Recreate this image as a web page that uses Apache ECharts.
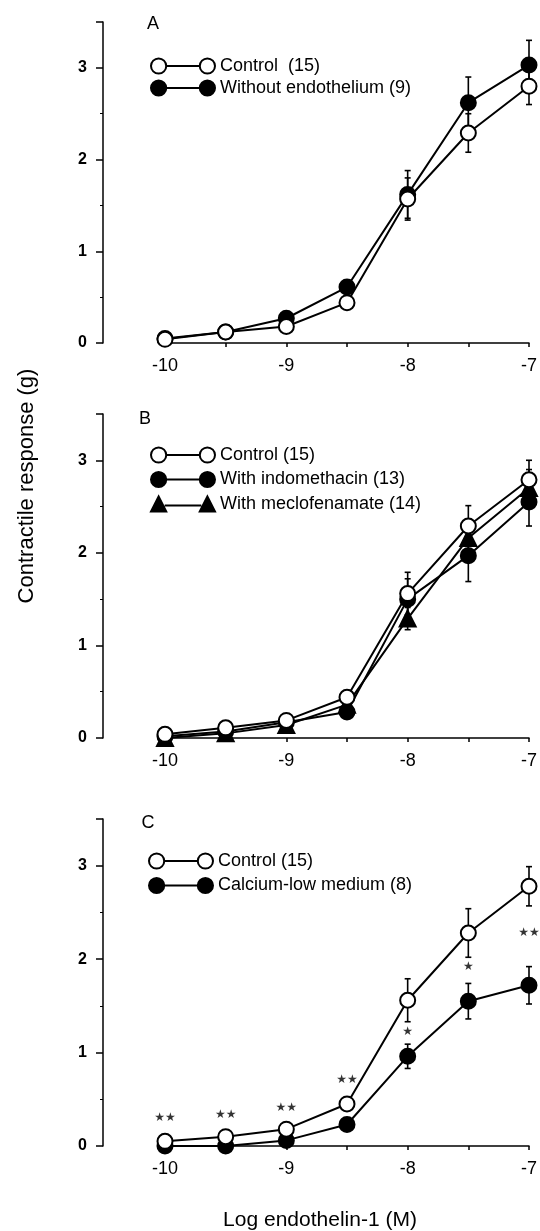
<!DOCTYPE html>
<html><head><meta charset="utf-8">
<script src="https://cdn.jsdelivr.net/npm/echarts@6/dist/echarts.min.js"></script>
<style>html,body{margin:0;padding:0;background:#fff}#c{width:540px;height:1231px}</style>
</head><body><div id="c"></div>
<script>
// ---- data ----
const xValues = [-10, -9.5, -9, -8.5, -8, -7.5, -7];
const xTickLabels = ['-10', '-9', '-8', '-7'];
const yTickLabels = ['0', '1', '2', '3'];

// Panel A
const aControl     = [0.04, 0.12, 0.18, 0.44, 1.57, 2.29, 2.80];
const aControlErr  = [0.02, 0.02, 0.03, 0.04, 0.23, 0.21, 0.20];
const aNoEndo      = [0.05, 0.12, 0.27, 0.61, 1.62, 2.62, 3.03];
const aNoEndoErr   = [0.02, 0.02, 0.03, 0.06, 0.26, 0.28, 0.27];

// Panel B
const bControl     = [0.04, 0.11, 0.19, 0.44, 1.56, 2.29, 2.79];
const bControlErr  = [0.02, 0.02, 0.03, 0.04, 0.23, 0.22, 0.21];
const bIndo        = [0.02, 0.07, 0.17, 0.28, 1.50, 1.97, 2.55];
const bIndoErr     = [0.01, 0.02, 0.03, 0.04, 0.22, 0.28, 0.26];
const bMeclo       = [0.00, 0.05, 0.14, 0.36, 1.29, 2.16, 2.70];
const bMecloErr    = [0.01, 0.02, 0.03, 0.04, 0.12, 0.20, 0.20];

// Panel C
const cControl     = [0.05, 0.10, 0.18, 0.45, 1.56, 2.28, 2.78];
const cControlErr  = [0.02, 0.02, 0.03, 0.05, 0.23, 0.26, 0.21];
const cCalcium     = [0.00, 0.00, 0.06, 0.23, 0.96, 1.55, 1.72];
const cCalciumErr  = [0.01, 0.01, 0.02, 0.03, 0.13, 0.19, 0.20];
const cStarY       = [0.30, 0.33, 0.41, 0.71, 1.22, 1.92, 2.28];
const cStarText    = ['**', '**', '**', '**', '*', '*', '**'];

const legendA = ['Control  (15)', 'Without endothelium (9)'];
const legendB = ['Control (15)', 'With indomethacin (13)', 'With meclofenamate (14)'];
const legendC = ['Control (15)', 'Calcium-low medium (8)'];
const panelLetters = ['A', 'B', 'C'];

// ---- build ----
const FONT = '"Liberation Sans", Arial, Helvetica, sans-serif';
const pts = v => xValues.map((x, i) => [x, v[i]]);
const errPts = (v, e) => xValues.map((x, i) => [x, v[i], e[i]]);

function errRender(params, api) {
  const x = api.value(0), m = api.value(1), e = api.value(2);
  const t = api.coord([x, m + e]);
  const b = api.coord([x, m - e]);
  const cw = 3;
  const st = { stroke: '#000', lineWidth: 1.6 };
  return { type: 'group', children: [
    { type: 'line', shape: { x1: t[0], y1: t[1], x2: b[0], y2: b[1] }, style: st },
    { type: 'line', shape: { x1: t[0] - cw, y1: t[1], x2: t[0] + cw, y2: t[1] }, style: st },
    { type: 'line', shape: { x1: b[0] - cw, y1: b[1], x2: b[0] + cw, y2: b[1] }, style: st }
  ]};
}

const series = [];
function addGroup(gi, name, vals, errs, symbol, filled, order) {
  series.push({ type: 'line', name, xAxisIndex: gi, yAxisIndex: gi, data: pts(vals),
    symbol: 'none', showSymbol: false, lineStyle: { color: '#000', width: 2 }, z: 2, clip: false, silent: true, animation: false });
  series.push({ type: 'custom', name, xAxisIndex: gi, yAxisIndex: gi, data: errPts(vals, errs),
    renderItem: errRender, z: 3, silent: true, animation: false });
  series.push({ type: 'scatter', name, xAxisIndex: gi, yAxisIndex: gi, data: pts(vals),
    symbol, symbolSize: symbol === 'triangle' ? 16 : 15,
    itemStyle: { color: filled ? '#000' : '#fff', borderColor: '#000', borderWidth: 2, opacity: 1 },
    z: 4 + order, clip: false, silent: true, animation: false });
}

addGroup(0, legendA[1], aNoEndo, aNoEndoErr, 'circle', true, 0);
addGroup(0, legendA[0], aControl, aControlErr, 'circle', false, 1);

addGroup(1, legendB[2], bMeclo, bMecloErr, 'triangle', true, 0);
addGroup(1, legendB[1], bIndo, bIndoErr, 'circle', true, 1);
addGroup(1, legendB[0], bControl, bControlErr, 'circle', false, 2);

addGroup(2, legendC[1], cCalcium, cCalciumErr, 'circle', true, 0);
addGroup(2, legendC[0], cControl, cControlErr, 'circle', false, 1);

series.push({ type: 'scatter', xAxisIndex: 2, yAxisIndex: 2, data: pts(cStarY),
  symbol: 'circle', symbolSize: 1, itemStyle: { color: 'transparent' }, silent: true, z: 8, animation: false,
  label: { show: true, position: 'inside', fontSize: 12, fontFamily: '"DejaVu Sans"', color: '#000',
    formatter: p => cStarText[p.dataIndex].split('').map(() => '\u2605').join('') } });

const openPair = 'path://M0.5,8a7.5,7.5 0 1,0 15,0a7.5,7.5 0 1,0 -15,0z M48.5,8a7.5,7.5 0 1,0 15,0a7.5,7.5 0 1,0 -15,0z M15.5,8L48.5,8';
const triPair = 'path://M8,0.5L15.5,15.5L0.5,15.5Z M56,0.5L63.5,15.5L48.5,15.5Z M14,9.5L50,9.5';
const openStyle = { color: '#fff', borderColor: '#000', borderWidth: 2 };
const fillStyle = { color: '#000', borderColor: '#000', borderWidth: 2 };

function legend(left, top, gap, items) {
  return { left, top, padding: 0, orient: 'vertical', itemWidth: 64, itemHeight: 16, itemGap: gap,
    selectedMode: false, textStyle: { fontSize: 18, fontFamily: FONT, color: '#000' },
    data: items.map(([name, icon, style]) => ({ name, icon, itemStyle: style })) };
}

const grids = [
  { left: 165, right: 11, top: 22, height: 321 },
  { left: 165, right: 11, top: 414, height: 324 },
  { left: 165, right: 11, top: 819, height: 327 }
];

const xAxes = grids.map((g, i) => ({
  gridIndex: i, type: 'value', min: -10, max: -7, interval: 0.5,
  axisLine: { show: true, onZero: false, lineStyle: { color: '#000', width: 1.5 } },
  axisTick: { show: true, length: 4, lineStyle: { color: '#000', width: 1.5 } },
  axisLabel: { fontSize: 18, fontFamily: FONT, color: '#000', margin: 14,
    formatter: v => xTickLabels.includes(String(v)) ? String(v) : '' },
  splitLine: { show: false }
}));
const yAxes = grids.map((g, i) => ({
  gridIndex: i, type: 'value', min: 0, max: 3.5, interval: 1, offset: 62,
  axisLine: { show: true, lineStyle: { color: '#000', width: 1.5 } },
  axisTick: { show: true, length: 7, lineStyle: { color: '#000', width: 1.5 } },
  minorTick: { show: true, splitNumber: 2, length: 3, lineStyle: { color: '#000', width: 1 } },
  axisLabel: { fontSize: 16, fontWeight: 'bold', fontFamily: FONT, color: '#000', margin: 16,
    formatter: v => yTickLabels.includes(String(v)) ? String(v) : '' },
  splitLine: { show: false }
}));

const letterPos = [[153, 24], [145, 419], [148, 823]];
const graphic = panelLetters.map((t, i) => ({ type: 'text', x: letterPos[i][0], y: letterPos[i][1],
  style: { text: t, fontSize: 18, fontFamily: FONT, fill: '#000', align: 'center', verticalAlign: 'middle' } }));
graphic.push({ type: 'text', x: 27, y: 486, rotation: Math.PI / 2,
  style: { text: 'Contractile response (g)', fontSize: 22, fontFamily: FONT, fill: '#000', align: 'center', verticalAlign: 'middle' } });
graphic.push({ type: 'text', x: 320, y: 1220,
  style: { text: 'Log endothelin-1 (M)', fontSize: 21, fontFamily: FONT, fill: '#000', align: 'center', verticalAlign: 'middle' } });

const chart = echarts.init(document.getElementById('c'), null, { renderer: 'canvas' });
chart.setOption({
  backgroundColor: '#fff',
  animation: false,
  grid: grids,
  xAxis: xAxes,
  yAxis: yAxes,
  legend: [
    legend(150, 57, 4, [[legendA[0], openPair, openStyle], [legendA[1], openPair, fillStyle]]),
    legend(150, 446, 6.5, [[legendB[0], openPair, openStyle], [legendB[1], openPair, fillStyle], [legendB[2], triPair, fillStyle]]),
    legend(148, 852, 6.5, [[legendC[0], openPair, openStyle], [legendC[1], openPair, fillStyle]])
  ],
  graphic,
  series
});
</script></body></html>
